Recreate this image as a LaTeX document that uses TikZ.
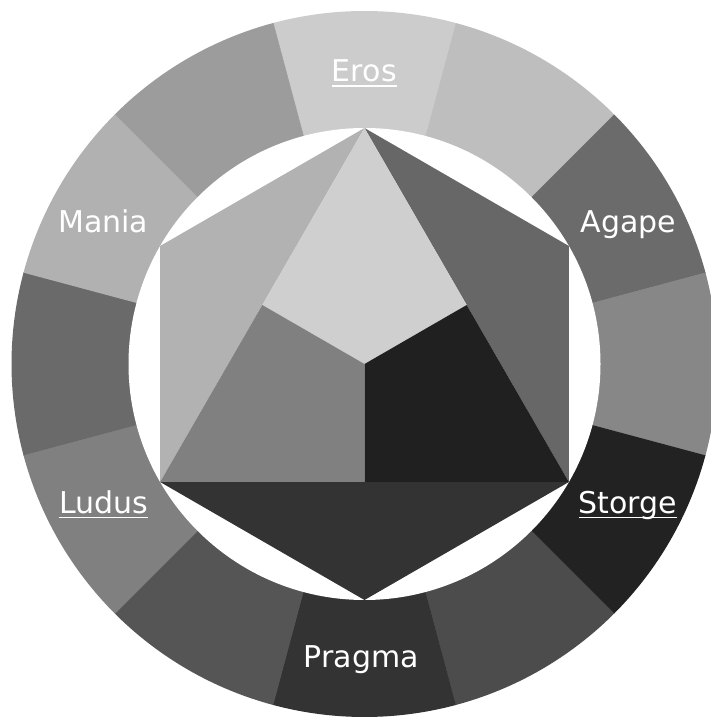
\documentclass[tikz,border=0pt]{standalone}
\usepackage{fontspec}
\setmainfont{DejaVu Sans}
\usetikzlibrary{calc}
\definecolor{sA}{gray}{0.80}
\definecolor{sB}{gray}{0.745}
\definecolor{sC}{gray}{0.42}
\definecolor{sD}{gray}{0.53}
\definecolor{sE}{gray}{0.133}
\definecolor{sF}{gray}{0.30}
\definecolor{sG}{gray}{0.20}
\definecolor{sH}{gray}{0.333}
\definecolor{sI}{gray}{0.50}
\definecolor{sJ}{gray}{0.415}
\definecolor{sK}{gray}{0.695}
\definecolor{sL}{gray}{0.61}
\definecolor{qTop}{gray}{0.81}
\definecolor{qLeft}{gray}{0.50}
\definecolor{qRight}{gray}{0.125}
\definecolor{tLeft}{gray}{0.70}
\definecolor{tRight}{gray}{0.405}
\definecolor{tBottom}{gray}{0.20}
\tikzset{
  lbl/.style={text=white, inner sep=0pt, anchor=base, font=\fontsize{30}{36}\selectfont},
  uline/.style={draw=white, line width=1.4pt}
}
\newcommand{\wedgefill}[3]{%
  \fill[#1] (C) -- ($(C)+(#2:353)$) arc[start angle=#2, end angle=#3, radius=353] -- cycle;
  \draw[#1, line width=0.6pt] (C) -- ($(C)+(#2:353)$);
}
\begin{document}
\begin{tikzpicture}[x=1pt,y=1pt]
\useasboundingbox (0,0) rectangle (711,718);
\fill[white] (0,0) rectangle (711,718);
\clip (0,0) rectangle (711,718);
\coordinate (C) at (364.5,354);
% outer ring segments
\wedgefill{sA}{75}{105}
\wedgefill{sB}{45}{75}
\wedgefill{sC}{15}{45}
\wedgefill{sD}{-15}{15}
\wedgefill{sE}{-45}{-15}
\wedgefill{sF}{-75}{-45}
\wedgefill{sG}{-105}{-75}
\wedgefill{sH}{-135}{-105}
\wedgefill{sI}{-165}{-135}
\wedgefill{sJ}{165}{195}
\wedgefill{sK}{135}{165}
\wedgefill{sL}{105}{135}
\fill[white] (C) circle[radius=236];
% hexagon vertices
\coordinate (T) at ($(C)+(90:236)$);
\coordinate (UR) at ($(C)+(30:236)$);
\coordinate (LR) at ($(C)+(-30:236)$);
\coordinate (B) at ($(C)+(-90:236)$);
\coordinate (LL) at ($(C)+(-150:236)$);
\coordinate (UL) at ($(C)+(150:236)$);
\coordinate (ML) at ($(T)!0.5!(LL)$);
\coordinate (MR) at ($(T)!0.5!(LR)$);
\coordinate (MB) at ($(LL)!0.5!(LR)$);
% outer triangles
\fill[tLeft] (UL) -- (T) -- (LL) -- cycle;
\fill[tRight] (T) -- (UR) -- (LR) -- cycle;
\fill[tBottom] (LL) -- (LR) -- (B) -- cycle;
% central triangle parts
\fill[qTop] (T) -- (MR) -- (C) -- (ML) -- cycle;
\fill[qLeft] (LL) -- (ML) -- (C) -- (MB) -- cycle;
\fill[qRight] (LR) -- (MB) -- (C) -- (MR) -- cycle;
% labels
\node[lbl] (eros) at (364.3,636.3) {Eros};
\node[lbl] (mania) at (103.3,485.3) {Mania};
\node[lbl] (agape) at (628.7,485.3) {Agape};
\node[lbl] (ludus) at (103.5,204.7) {Ludus};
\node[lbl] (storge) at (628,204.7) {Storge};
\node[lbl] (pragma) at (361.3,50.7) {Pragma};
\draw[uline] ([yshift=-4.3pt]eros.base west) -- ([yshift=-4.3pt]eros.base east);
\draw[uline] ([yshift=-4.3pt]ludus.base west) -- ([yshift=-4.3pt]ludus.base east);
\draw[uline] ([yshift=-4.3pt]storge.base west) -- ([yshift=-4.3pt]storge.base east);
\end{tikzpicture}
\end{document}
